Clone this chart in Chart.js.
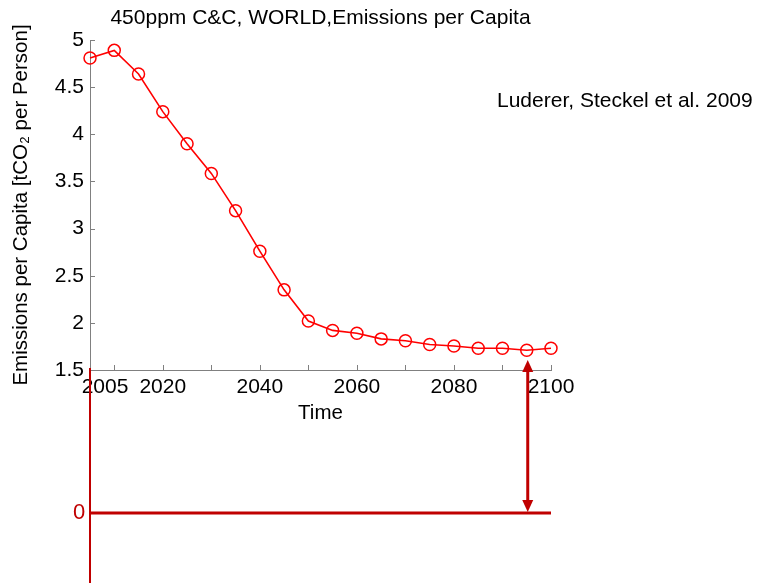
<!DOCTYPE html>
<html>
<head>
<meta charset="utf-8">
<script src="https://cdn.jsdelivr.net/npm/chart.js@4.4.1/dist/chart.umd.min.js"></script>
<style>
html,body{margin:0;padding:0;background:#fff;}
#wrap{width:758px;height:583px;}
</style>
</head>
<body>
<div id="wrap"><canvas id="c" width="758" height="583"></canvas></div>
<script>
// ---- data ----
const years = [2005,2010,2015,2020,2025,2030,2035,2040,2045,2050,2055,2060,2065,2070,2075,2080,2085,2090,2095,2100];
const emissions = [4.81,4.89,4.64,4.24,3.90,3.585,3.19,2.76,2.35,2.02,1.92,1.89,1.83,1.81,1.77,1.755,1.73,1.73,1.71,1.73];
const xTickValues = [2010,2020,2030,2040,2050,2060,2070,2080,2090,2100];
const xLabeledValues = [2020,2040,2060,2080,2100];
const startLabel = "2005";
const startLabelPos = 2008.1;
const arrowYear = 2095;
const titleText = "450ppm C&C, WORLD,Emissions per Capita";
const yTitleText = "Emissions per Capita [tCO\u2082 per Person]";
const xTitleText = "Time";
const sourceText = "Luderer, Steckel et al. 2009";
const zeroLabel = "0";

const FONT = "'Liberation Sans', Arial, sans-serif";
const AXIS_GREY = '#808080';
const DARK_RED = '#c00000';

const points = years.map((y, i) => ({x: y, y: emissions[i]}));

const overlay = {
  id: 'overlay',
  afterDraw(chart) {
    const ctx = chart.ctx;
    const a = chart.chartArea;
    const xs = chart.scales.x, ys = chart.scales.y;
    ctx.save();
    // inward tick marks
    ctx.strokeStyle = AXIS_GREY;
    ctx.lineWidth = 1;
    ctx.beginPath();
    xTickValues.forEach(v => {
      const px = Math.round(xs.getPixelForValue(v)) + 0.5;
      ctx.moveTo(px, a.bottom);
      ctx.lineTo(px, a.bottom - 5);
    });
    ys.ticks.forEach(t => {
      const py = Math.round(ys.getPixelForValue(t.value)) + 0.5;
      ctx.moveTo(a.left, py);
      ctx.lineTo(a.left + 5, py);
    });
    ctx.stroke();

    // source text
    ctx.fillStyle = '#000';
    ctx.font = "21px " + FONT;
    ctx.textAlign = 'left';
    ctx.textBaseline = 'middle';
    ctx.fillText(sourceText, 497, 101);

    // red broken-axis annotation
    const zeroY = a.bottom + 143;
    ctx.strokeStyle = DARK_RED;
    ctx.lineWidth = 2;
    ctx.beginPath();
    ctx.moveTo(a.left, a.bottom - 2);
    ctx.lineTo(a.left, chart.height);
    ctx.stroke();
    ctx.lineWidth = 3;
    ctx.beginPath();
    ctx.moveTo(a.left, zeroY);
    ctx.lineTo(a.right, zeroY);
    ctx.stroke();
    ctx.fillStyle = DARK_RED;
    ctx.font = "22px " + FONT;
    ctx.textAlign = 'center';
    ctx.fillText(zeroLabel, a.left - 11, zeroY);

    // double-headed arrow
    const ax = xs.getPixelForValue(arrowYear) + 1;
    const top = a.bottom - 10, bot = zeroY - 1;
    const hl = 12, hw = 5.5;
    ctx.lineWidth = 3;
    ctx.beginPath();
    ctx.moveTo(ax, top + hl - 1);
    ctx.lineTo(ax, bot - hl + 1);
    ctx.stroke();
    ctx.beginPath();
    ctx.moveTo(ax, top);
    ctx.lineTo(ax - hw, top + hl);
    ctx.lineTo(ax + hw, top + hl);
    ctx.closePath();
    ctx.fill();
    ctx.beginPath();
    ctx.moveTo(ax, bot);
    ctx.lineTo(ax - hw, bot - hl);
    ctx.lineTo(ax + hw, bot - hl);
    ctx.closePath();
    ctx.fill();
    ctx.restore();
  }
};

new Chart(document.getElementById('c'), {
  type: 'line',
  data: {
    datasets: [{
      data: points,
      borderColor: '#ff0000',
      borderWidth: 1.6,
      pointStyle: 'circle',
      pointRadius: 6,
      pointBorderWidth: 1.5,
      pointBorderColor: '#ff0000',
      pointBackgroundColor: 'rgba(0,0,0,0)',
      tension: 0,
      clip: false
    }]
  },
  options: {
    responsive: false,
    animation: false,
    devicePixelRatio: 1,
    layout: {padding: {left: 0, right: 207, top: 0, bottom: 157}},
    plugins: {
      legend: {display: false},
      tooltip: {enabled: false},
      title: {
        display: true,
        text: titleText,
        fullSize: false,
        color: '#000',
        font: {family: FONT, size: 21, weight: 'normal'},
        padding: {top: 5.9, bottom: 8.9}
      }
    },
    scales: {
      x: {
        type: 'linear',
        min: 2005,
        max: 2100,
        afterBuildTicks(scale) {
          scale.ticks = [{value: startLabelPos}].concat(xTickValues.map(v => ({value: v})));
        },
        afterFit(scale) { scale.height = 56; },
        grid: {display: true, color: 'rgba(0,0,0,0)', drawTicks: false},
        border: {display: true, color: AXIS_GREY, width: 1},
        ticks: {
          autoSkip: false,
          maxRotation: 0,
          padding: 5,
          color: '#000',
          font: {family: FONT, size: 21},
          callback(v) {
            if (Math.abs(v - startLabelPos) < 0.01) return startLabel;
            return xLabeledValues.includes(v) ? String(v) : '';
          }
        },
        title: {
          display: true,
          text: xTitleText,
          color: '#000',
          font: {family: FONT, size: 20.5},
          padding: {top: 0, bottom: 0}
        }
      },
      y: {
        type: 'linear',
        min: 1.5,
        max: 5,
        afterFit(scale) { scale.width = 90; },
        grid: {display: true, color: 'rgba(0,0,0,0)', drawTicks: false},
        border: {display: true, color: AXIS_GREY, width: 1},
        ticks: {
          stepSize: 0.5,
          padding: 6,
          color: '#000',
          font: {family: FONT, size: 21},
          callback(v) { return String(v); }
        },
        title: {
          display: true,
          text: yTitleText,
          color: '#000',
          font: {family: FONT, size: 20.5},
          padding: {top: 9, bottom: 0}
        }
      }
    }
  },
  plugins: [overlay]
});
</script>
</body>
</html>
